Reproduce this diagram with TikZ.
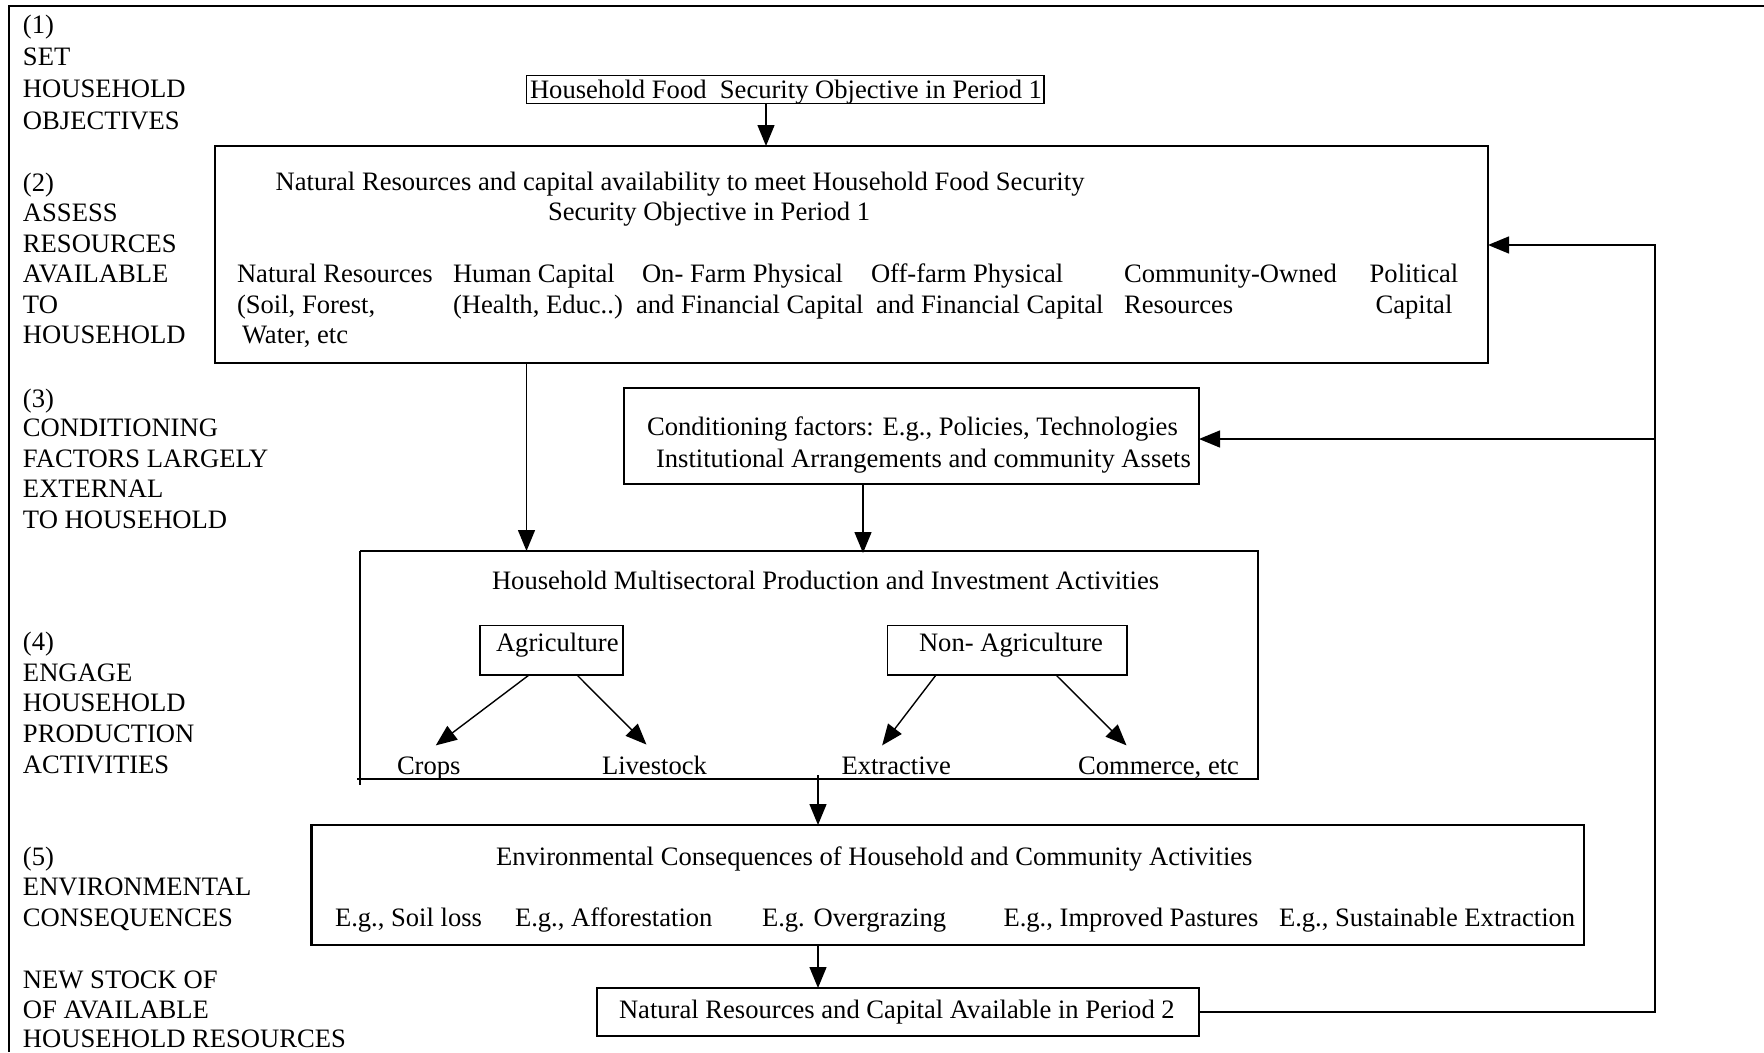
\documentclass[tikz,border=0pt]{standalone}
\usepackage{fontspec}
\setmainfont{Liberation Serif}
\usetikzlibrary{arrows.meta}
\begin{document}
\begin{tikzpicture}[x=1pt,y=-1pt,
  every node/.style={inner sep=0pt, outer sep=0pt, font=\fontsize{26.6}{32}\selectfont},
  txt/.style={anchor=base west},
  ctxt/.style={anchor=base},
  box/.style={draw, line width=1.7pt, anchor=north west},
  hbox/.style={draw, line width=2.3pt, anchor=north west},
  arr/.style={line width=1.4pt, -{Triangle[length=21pt,width=17pt]}},
  ln/.style={line width=1.4pt}]
\useasboundingbox (0,0) rectangle (1764,1052);
% outer frame (open at right and bottom)
\draw[line width=2pt] (1764,6) -- (9,6) -- (9,1052);

% left stage labels
\foreach \yy/\lab [count=\i] in {33/(1), 65/SET, 97/HOUSEHOLD, 129/OBJECTIVES,
  191/(2), 221.5/ASSESS, 252/RESOURCES, 282/AVAILABLE, 313/TO, 343/HOUSEHOLD,
  407/(3), 436.5/CONDITIONING, 467/FACTORS LARGELY, 497/EXTERNAL, 528/TO HOUSEHOLD,
  650/(4), 681/ENGAGE, 711/HOUSEHOLD, 742.5/PRODUCTION, 773/ACTIVITIES,
  865/(5), 895.5/ENVIRONMENTAL, 926/CONSEQUENCES,
  988/NEW STOCK OF, 1018/OF AVAILABLE, 1047/HOUSEHOLD RESOURCES}
  \node[txt] (L\i) at (23,\yy) {\lab};

% boxes
\node[box, minimum width=517.5pt, minimum height=28pt] (box1) at (526.5,75.4) {};
\node[box, minimum width=1273pt, minimum height=217pt] (box2) at (215,146) {};
\node[box, minimum width=575pt, minimum height=96pt] (cond) at (624,388) {};
\node[anchor=north west, minimum width=898pt, minimum height=228pt] (multi) at (360,551) {};
\node[box, minimum width=143pt, minimum height=49.5pt] (agri) at (480,625.5) {};
\node[box, minimum width=239.4pt, minimum height=49.5pt] (nonag) at (887.6,625.5) {};
\node[hbox, minimum width=1272.4pt, minimum height=120pt] (env) at (311.6,825) {};
\node[hbox, minimum width=602pt, minimum height=48pt] (p2) at (597,988) {};

% multisectoral box outline (with small overshoots)
\draw[line width=1.7pt] (multi.north west) -- (multi.north east) -- (multi.south east) -- ([xshift=-3pt]multi.south west);
\draw[line width=1.7pt] (multi.north west) -- ([yshift=-6pt]multi.south west);

% box texts
\node[txt] (t1) at (530,98) {Household Food\ \ Security Objective in Period 1};
\node[txt] (t2a) at (275.6,190) {Natural Resources and capital availability to meet Household Food Security};
\node[txt] (t2b) at (548,220.5) {Security Objective in Period 1};
\node[txt] (r1a) at (237,282) {Natural Resources};
\node[txt] (r1b) at (237,313) {(Soil, Forest,};
\node[txt] (r1c) at (242,343) {Water, etc};
\node[txt] (r2a) at (453,282) {Human Capital};
\node[txt] (r2b) at (453,313) {(Health, Educ..)};
\node[txt] (r3a) at (642,282) {On- Farm Physical};
\node[txt] (r3b) at (636,313) {and Financial Capital};
\node[txt] (r4a) at (871,282) {Off-farm Physical};
\node[txt] (r4b) at (876,313) {and Financial Capital};
\node[txt] (r5a) at (1124,282) {Community-Owned};
\node[txt] (r5b) at (1124,313) {Resources};
\node[ctxt] (r6a) at (1414,282) {Political};
\node[ctxt] (r6b) at (1414,313) {Capital};

\node[txt] (c1) at (647,435) {Conditioning factors: E.g., Policies, Technologies};
\node[txt] (c2) at (656,467) {Institutional Arrangements and community Assets};

\node[txt] (m1) at (492,589.5) {Household Multisectoral Production and Investment Activities};
\node[txt] (agt) at (496,651) {Agriculture};
\node[txt] (nagt) at (919,651) {Non- Agriculture};
\node[txt] (crops) at (397,774) {Crops};
\node[txt] (live) at (602,774) {Livestock};
\node[txt] (extr) at (841.5,774) {Extractive};
\node[txt] (comm) at (1078,774) {Commerce, etc};

\node[txt] (e0) at (496,865) {Environmental Consequences of Household and Community Activities};
\node[txt] (e1) at (335,926) {E.g., Soil loss};
\node[txt] (e2) at (515,926) {E.g., Afforestation};
\node[txt] (e3) at (762,926) {E.g. Overgrazing};
\node[txt] (e4) at (1003.5,926) {E.g., Improved Pastures};
\node[txt] (e5) at (1279,926) {E.g., Sustainable Extraction};

\node[txt] (p2t) at (619,1018) {Natural Resources and Capital Available in Period 2};

% connectors
\coordinate (x1) at (766,0);
\coordinate (x2) at (526.5,0);
\coordinate (x3) at (863,0);
\coordinate (x4) at (818,0);
\draw[arr] (box1.south -| x1) -- (box2.north -| x1);
\draw[arr] (box2.south -| x2) -- (multi.north -| x2);
\draw[arr] (cond.south -| x3) -- ([yshift=-2pt]multi.north -| x3);
\draw[arr] ([yshift=4pt]multi.south -| x4) -- (env.north -| x4);
\draw[arr] (env.south -| x4) -- (p2.north -| x4);

\draw[arr] ([xshift=-22.5pt]agri.south) -- ([xshift=7pt,yshift=11pt]crops.north);
\draw[arr] ([xshift=25.5pt]agri.south) -- ([xshift=-8pt,yshift=11pt]live.north);
\draw[arr] ([xshift=-71.3pt]nonag.south) -- ([xshift=-14pt,yshift=11pt]extr.north);
\draw[arr] ([xshift=48.7pt]nonag.south) -- ([xshift=-32pt,yshift=11pt]comm.north);

% feedback loop
\coordinate (fb) at (1655,245);
\coordinate (fb2) at (1655,439);
\draw[arr] (p2.east) -| (fb) -- (box2.east |- fb);
\draw[arr] (fb2) -- (cond.east |- fb2);
\end{tikzpicture}
\end{document}
